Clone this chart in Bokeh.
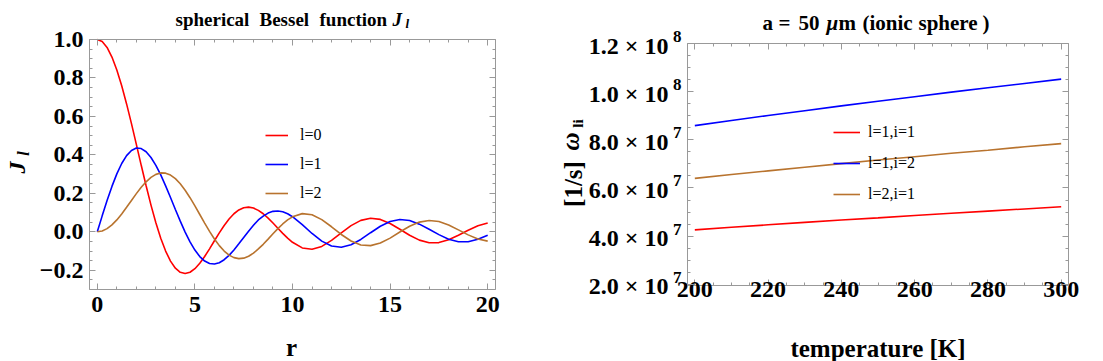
import math
from bokeh.plotting import figure
from bokeh.models import (Range1d, FixedTicker, LinearAxis, Label, Legend,
                          LegendItem, CustomJSTickFormatter)
from bokeh.layouts import row
from bokeh.embed import file_html
from bokeh.resources import INLINE

# ---------------- data ----------------
r = [0.0, 0.25, 0.5, 0.75, 1.0, 1.25, 1.5, 1.75, 2.0, 2.25, 2.5, 2.75, 3.0, 3.25,
     3.5, 3.75, 4.0, 4.25, 4.5, 4.75, 5.0, 5.25, 5.5, 5.75, 6.0, 6.25, 6.5, 6.75,
     7.0, 7.25, 7.5, 7.75, 8.0, 8.25, 8.5, 8.75, 9.0, 9.25, 9.5, 9.75, 10.0,
     10.5, 11.0, 11.5, 12.0, 12.5, 13.0, 13.5, 14.0, 14.5,
     15.0, 15.5, 16.0, 16.5, 17.0, 17.5, 18.0, 18.5, 19.0, 19.5, 20.0]
j0 = [1.0, 0.9896, 0.9589, 0.9089, 0.8415, 0.7592, 0.6650, 0.5623, 0.4546, 0.3458,
      0.2394, 0.1388, 0.0470, -0.0333, -0.1002, -0.1524, -0.1892, -0.2106, -0.2172, -0.2104,
      -0.1918, -0.1636, -0.1283, -0.0884, -0.0466, -0.0053, 0.0331, 0.0667, 0.0939, 0.1135,
      0.1251, 0.1283, 0.1237, 0.1113, 0.0939, 0.0713, 0.0458, 0.0188, -0.0079, -0.0328,
      -0.0544,
      -0.0838, -0.0909, -0.0761, -0.0447, -0.0053, 0.0323, 0.0595, 0.0708, 0.0645,
      0.0434, 0.0133, -0.0180, -0.0432, -0.0566, -0.0560, -0.0417, -0.0183, 0.0079, 0.0311, 0.0456]
j1 = [0.0, 0.0829, 0.1625, 0.2361, 0.3012, 0.3552, 0.3962, 0.4231, 0.4354, 0.4329,
      0.4162, 0.3866, 0.3457, 0.2957, 0.2390, 0.1782, 0.1161, 0.0554, -0.0015, -0.0522,
      -0.0951, -0.1288, -0.1522, -0.1652, -0.1678, -0.1607, -0.1451, -0.1224, -0.0943, -0.0626,
      -0.0295, 0.0032, 0.0337, 0.0616, 0.0819, 0.0975, 0.1063, 0.1085, 0.1042, 0.0938,
      0.0785,
      0.0373, -0.0087, -0.0486, -0.0740, -0.0802, -0.0673, -0.0397, -0.0047, 0.0289,
      0.0535, 0.0640, 0.0588, 0.0399, 0.0129, -0.0145, -0.0390, -0.0519, -0.0516, -0.0392, -0.0181]
j2 = [0.0, 0.0042, 0.0164, 0.0360, 0.0620, 0.0931, 0.1274, 0.1630, 0.1985, 0.2314,
      0.2600, 0.2829, 0.2987, 0.3063, 0.3051, 0.2950, 0.2763, 0.2497, 0.2162, 0.1774,
      0.1347, 0.0900, 0.0453, 0.0022, -0.0373, -0.0718, -0.1001, -0.1211, -0.1343, -0.1394,
      -0.1369, -0.1271, -0.1111, -0.0889, -0.0650, -0.0379, -0.0104, 0.0164, 0.0408, 0.0617,
      0.0780,
      0.0945, 0.0885, 0.0634, 0.0262, -0.0139, -0.0478, -0.0683, -0.0718, -0.0585,
      -0.0327, -0.0009, 0.0290, 0.0505, 0.0589, 0.0535, 0.0352, 0.0099, -0.0160, -0.0371, -0.0483]
bessel_labels = ["l=0", "l=1", "l=2"]

temperature = [200, 210, 220, 230, 240, 250, 260, 270, 280, 290, 300]
w_l1_i1 = [4.26e7, 4.37e7, 4.47e7, 4.57e7, 4.67e7, 4.76e7, 4.86e7, 4.95e7, 5.04e7, 5.13e7, 5.22e7]
w_l1_i2 = [8.59e7, 8.80e7, 9.01e7, 9.21e7, 9.41e7, 9.60e7, 9.79e7, 9.98e7, 1.016e8, 1.034e8, 1.052e8]
w_l2_i1 = [6.40e7, 6.56e7, 6.71e7, 6.86e7, 7.01e7, 7.16e7, 7.30e7, 7.44e7, 7.57e7, 7.71e7, 7.84e7]
omega_labels = ["l=1,i=1", "l=1,i=2", "l=2,i=1"]

x1_ticks = [0, 5, 10, 15, 20]
x1_minor = list(range(0, 21))
y1_ticks = [-0.2, 0.0, 0.2, 0.4, 0.6, 0.8, 1.0]
y1_minor = [round(-0.3 + 0.05 * k, 2) for k in range(27)]
x1_lim = (-0.4, 20.4)
y1_lim = (-0.3, 1.0)

x2_ticks = [200, 220, 240, 260, 280, 300]
x2_minor = list(range(200, 301, 5))
y2_ticks = [2.0e7, 4.0e7, 6.0e7, 8.0e7, 1.0e8, 1.2e8]
y2_tick_mant = ["2.0", "4.0", "6.0", "8.0", "1.0", "1.2"]
y2_tick_exp = ["7", "7", "7", "7", "8", "8"]
y2_minor = [round(2.0e7 + 0.5e7 * k) for k in range(21)]
x2_lim = (198, 302)
y2_lim = (1.95e7, 1.2e8)

FONT = "Liberation Serif"
FRAME = "#999999"
RED = "#ff0000"
BLUE = "#0000ff"
BROWN = "#b8732e"
TICK_SIZE = 24

H = 361  # canvas height (page px); page y -> bokeh screen y is H - y


def span(d0, d1, p0, p1, total):
    """extend a data interval [d0,d1] drawn at pixels [p0,p1] to the whole canvas."""
    k = (d1 - d0) / (p1 - p0)
    return d0 - p0 * k, d1 + (total - p1) * k


def style_axis(ax, loc, bounds, labels=True, standoff=0):
    ax.fixed_location = loc
    ax.bounds = bounds
    ax.axis_line_color = FRAME
    ax.axis_line_width = 1
    ax.major_tick_line_color = FRAME
    ax.minor_tick_line_color = FRAME
    ax.major_tick_in = 6
    ax.major_tick_out = 0
    ax.minor_tick_in = 3
    ax.minor_tick_out = 0
    ax.major_label_text_font = FONT
    ax.major_label_text_font_style = "bold"
    ax.major_label_text_font_size = f"{TICK_SIZE}px"
    ax.major_label_text_color = "black"
    ax.major_label_standoff = standoff
    if not labels:
        ax.formatter = CustomJSTickFormatter(code="return ''")


def lab(p, text, x, y, size, style="bold", align="left", baseline="alphabetic",
        angle=0.0, y_units="screen", y_offset=0):
    p.add_layout(Label(x=x, y=y, x_units="screen", y_units=y_units, text=text,
                       text_font=FONT, text_font_size=f"{size}px",
                       text_font_style=style, text_align=align,
                       text_baseline=baseline, angle=angle,
                       text_color="black", y_offset=y_offset))


def make_fig(width, xr, yr):
    p = figure(width=width, height=H, output_backend="svg",
               toolbar_location=None, x_range=Range1d(*xr), y_range=Range1d(*yr),
               min_border=0)
    p.xgrid.visible = False
    p.ygrid.visible = False
    p.outline_line_color = None
    p.background_fill_color = "white"
    p.border_fill_color = "white"
    return p


# ---------------- left panel (page x 0..540, frame 89..495 x 39..289) ----------------
W1 = 540
p1 = make_fig(W1, span(*x1_lim, 89, 495, W1), span(*y1_lim, H - 289, H - 39, H))
p1.xaxis[0].ticker = FixedTicker(ticks=x1_ticks, minor_ticks=x1_minor)
p1.yaxis[0].ticker = FixedTicker(ticks=y1_ticks, minor_ticks=y1_minor)
style_axis(p1.xaxis[0], y1_lim[0], x1_lim, True, 7)
style_axis(p1.yaxis[0], x1_lim[0], y1_lim, True, 6)
p1.yaxis[0].formatter = CustomJSTickFormatter(
    code="return tick < -1e-9 ? '\u2212' + Math.abs(tick).toFixed(1) : Math.abs(tick).toFixed(1)")
top1 = LinearAxis(ticker=FixedTicker(ticks=x1_ticks, minor_ticks=x1_minor))
right1 = LinearAxis(ticker=FixedTicker(ticks=y1_ticks, minor_ticks=y1_minor))
style_axis(top1, y1_lim[1], x1_lim, False)
style_axis(right1, x1_lim[1], y1_lim, False)
p1.add_layout(top1, "above")
p1.add_layout(right1, "right")

rr = []
for ys, c in zip([j0, j1, j2], [RED, BLUE, BROWN]):
    rr.append(p1.line(r, ys, line_color=c, line_width=1.6))

leg1 = Legend(items=[LegendItem(label=t, renderers=[g]) for t, g in zip(bessel_labels, rr)],
              location=(265, H - 203), padding=0, margin=0, spacing=9,
              glyph_width=23, glyph_height=20, label_height=20, label_standoff=12,
              label_text_font=FONT, label_text_font_size="16px",
              label_text_color="black", border_line_color=None,
              background_fill_alpha=0)
p1.add_layout(leg1)

ty = H - 18.5
lab(p1, "spherical", 175, ty, 19)
lab(p1, "Bessel", 259, ty, 19)
lab(p1, "function", 319, ty, 19)
lab(p1, "J", 392, ty, 19, style="bold italic")
lab(p1, "l", 405, ty - 4, 13, style="bold italic")
lab(p1, "r", 291, H - 347, 25, align="center")
lab(p1, "J", 16, H - 167, 24, style="bold italic", align="center", baseline="middle",
    angle=math.pi / 2)
lab(p1, "l", 23, H - 153, 16, style="bold italic", align="center", baseline="middle",
    angle=math.pi / 2)

# ---------------- right panel (page x 540..1095, frame 687..1068 x 43..285) ----------------
W2 = 555
X0 = 540
p2 = make_fig(W2, span(*x2_lim, 687 - X0, 1068 - X0, W2), span(*y2_lim, H - 285, H - 43, H))
p2.xaxis[0].ticker = FixedTicker(ticks=x2_ticks, minor_ticks=x2_minor)
p2.yaxis[0].ticker = FixedTicker(ticks=y2_ticks, minor_ticks=y2_minor)
style_axis(p2.xaxis[0], y2_lim[0], x2_lim, True, -4)
style_axis(p2.yaxis[0], x2_lim[0], y2_lim, False)
top2 = LinearAxis(ticker=FixedTicker(ticks=x2_ticks, minor_ticks=x2_minor))
right2 = LinearAxis(ticker=FixedTicker(ticks=y2_ticks, minor_ticks=y2_minor))
style_axis(top2, y2_lim[1], x2_lim, False)
style_axis(right2, x2_lim[1], y2_lim, False)
p2.add_layout(top2, "above")
p2.add_layout(right2, "right")

rr2 = []
for ys, c in zip([w_l1_i1, w_l1_i2, w_l2_i1], [RED, BLUE, BROWN]):
    rr2.append(p2.line(temperature, ys, line_color=c, line_width=1.6))

leg2 = Legend(items=[LegendItem(label=t, renderers=[g]) for t, g in zip(omega_labels, rr2)],
              location=(833 - X0, H - 204), padding=0, margin=0, spacing=11,
              glyph_width=27, glyph_height=20, label_height=20, label_standoff=8,
              label_text_font=FONT, label_text_font_size="16px",
              label_text_color="black", border_line_color=None,
              background_fill_alpha=0)
p2.add_layout(leg2)

for v, m, e in zip(y2_ticks, y2_tick_mant, y2_tick_exp):
    lab(p2, f"{m} \u00d7 10", 668 - X0, v, TICK_SIZE, align="right", baseline="middle",
        y_units="data", y_offset=-2)
    lab(p2, e, 681 - X0, v, 17, align="right", baseline="middle",
        y_units="data", y_offset=7)

ty2 = H - 22.5
lab(p2, "a", 762 - X0, ty2, 21)
lab(p2, "=", 778 - X0, ty2, 21)
lab(p2, "50", 798 - X0, ty2, 21)
lab(p2, "\u03bc", 826 - X0, ty2, 21, style="bold italic")
lab(p2, "m", 838 - X0, ty2, 21)
lab(p2, "(ionic", 862 - X0, ty2, 21)
lab(p2, "sphere", 918 - X0, ty2, 21)
lab(p2, ")", 982 - X0, ty2, 21)
lab(p2, "temperature [K]", 877.5 - X0, H - 348, 25, align="center")
lab(p2, "[1/s]", 573 - X0, H - 183.5, 25, align="center", baseline="middle",
    angle=math.pi / 2)
lab(p2, "\u03c9", 570 - X0, H - 141, 25, style="bold italic", align="center",
    baseline="middle", angle=math.pi / 2)
lab(p2, "li", 577 - X0, H - 123, 15, align="center", baseline="middle", angle=math.pi / 2)

layout = row(p1, p2)
open("out.html", "w").write(file_html(layout, INLINE))
